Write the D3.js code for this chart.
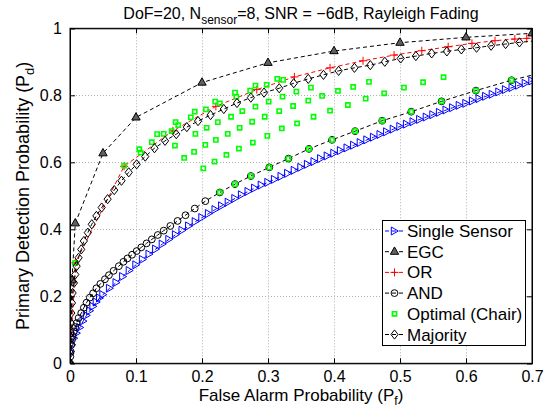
<!DOCTYPE html>
<html lang="en">
<head>
<meta charset="UTF-8">
<title>ROC curves</title>
<script src="https://d3js.org/d3.v7.min.js"></script>
<style>
  body { margin: 0; background: #fff; }
  svg text { font-family: "Liberation Sans", Arial, Helvetica, sans-serif; fill: #000; }
</style>
</head>
<body>
<script>
// ---- data ----
var pfSingle = [0, 0.001, 0.003, 0.006, 0.01, 0.015, 0.02, 0.025, 0.03, 0.035, 0.04, 0.045, 0.05,
  0.06, 0.07, 0.08, 0.09, 0.10, 0.11, 0.12, 0.13, 0.14, 0.15, 0.16, 0.17, 0.18, 0.19, 0.20,
  0.21, 0.22, 0.23, 0.24, 0.25, 0.26, 0.27, 0.28, 0.29, 0.30, 0.31, 0.32, 0.33, 0.34, 0.35,
  0.36, 0.37, 0.38, 0.39, 0.40, 0.41, 0.42, 0.43, 0.44, 0.45, 0.46, 0.47, 0.48, 0.49, 0.50,
  0.51, 0.52, 0.53, 0.54, 0.55, 0.56, 0.57, 0.58, 0.59, 0.60, 0.61, 0.62, 0.63, 0.64, 0.65,
  0.66, 0.67, 0.68, 0.69, 0.70];
var pdSingle = [0, 0.035, 0.055, 0.075, 0.09, 0.107, 0.126, 0.143, 0.157, 0.17, 0.183, 0.195, 0.205,
  0.224, 0.241, 0.259, 0.277, 0.294, 0.31, 0.326, 0.341, 0.356, 0.37, 0.384, 0.397, 0.41, 0.423, 0.435,
  0.447, 0.459, 0.47, 0.481, 0.492, 0.503, 0.513, 0.523, 0.532, 0.54, 0.549, 0.558, 0.567, 0.576, 0.585,
  0.594, 0.602, 0.611, 0.619, 0.627, 0.635, 0.643, 0.651, 0.659, 0.667, 0.675, 0.683, 0.691, 0.699, 0.707,
  0.714, 0.721, 0.728, 0.735, 0.742, 0.749, 0.756, 0.763, 0.77, 0.776, 0.783, 0.79, 0.797, 0.803, 0.81,
  0.817, 0.823, 0.83, 0.836, 0.843];

var pfEgc = [0, 0.003, 0.008, 0.05, 0.1, 0.2, 0.3, 0.4, 0.5, 0.6, 0.7];
var pdEgc = [0, 0.248, 0.418, 0.627, 0.734, 0.838, 0.897, 0.932, 0.957, 0.973, 0.985];

var pfOr = [0, 0.008, 0.082, 0.156, 0.221, 0.283, 0.34, 0.394, 0.444, 0.491, 0.533, 0.573, 0.609, 0.644, 0.674, 0.692, 0.715];
var pdOr = [0, 0.30, 0.588, 0.694, 0.767, 0.817, 0.855, 0.882, 0.903, 0.92, 0.933, 0.945, 0.955, 0.963, 0.968, 0.97, 0.974];

var pfAnd = [0, 0.0005, 0.001, 0.002, 0.003, 0.004, 0.006, 0.008, 0.010, 0.013, 0.017, 0.021, 0.025,
  0.030, 0.035, 0.040, 0.046, 0.053, 0.059, 0.066, 0.074, 0.081, 0.087, 0.094, 0.101, 0.108, 0.116,
  0.124, 0.133, 0.142, 0.152, 0.163, 0.175, 0.189, 0.205, 0.227, 0.25, 0.274, 0.302, 0.331, 0.362,
  0.397, 0.432, 0.473, 0.517, 0.563, 0.615, 0.669, 0.726];
var pdAnd = [0, 0.02, 0.035, 0.055, 0.07, 0.082, 0.095, 0.108, 0.12, 0.135, 0.15, 0.166, 0.181,
  0.196, 0.209, 0.224, 0.237, 0.251, 0.263, 0.276, 0.29, 0.303, 0.313, 0.324, 0.335, 0.346, 0.358,
  0.37, 0.383, 0.396, 0.41, 0.425, 0.442, 0.462, 0.484, 0.51, 0.535, 0.559, 0.585, 0.611, 0.64,
  0.667, 0.693, 0.724, 0.751, 0.782, 0.814, 0.845, 0.873];

var pfOpt = [0.008, 0.082, 0.105, 0.107, 0.124, 0.132, 0.142, 0.154, 0.16, 0.164, 0.159, 0.173,
  0.183, 0.189, 0.19, 0.188, 0.202, 0.206, 0.207, 0.205, 0.219, 0.22, 0.227, 0.224, 0.221, 0.237,
  0.239, 0.244, 0.25, 0.252, 0.261, 0.257, 0.256, 0.277, 0.276, 0.281, 0.273, 0.281, 0.298, 0.295,
  0.299, 0.301, 0.314, 0.323, 0.317, 0.321, 0.322, 0.343, 0.338, 0.344, 0.365, 0.361, 0.369, 0.382,
  0.394, 0.406, 0.421, 0.429, 0.453, 0.448, 0.476, 0.506, 0.535, 0.566,
  0.227, 0.25, 0.274, 0.302, 0.331, 0.362, 0.397, 0.432, 0.473, 0.517, 0.563, 0.615, 0.669];
var pdOpt = [0.30, 0.59, 0.639, 0.629, 0.66, 0.684, 0.685, 0.693, 0.72, 0.711, 0.65, 0.613,
  0.734, 0.751, 0.685, 0.631, 0.582, 0.758, 0.703, 0.652, 0.602, 0.781, 0.776, 0.72, 0.667, 0.622,
  0.685, 0.736, 0.808, 0.796, 0.753, 0.703, 0.641, 0.659, 0.721, 0.766, 0.814, 0.829, 0.831, 0.736,
  0.679, 0.781, 0.849, 0.846, 0.753, 0.701, 0.796, 0.811, 0.768, 0.716, 0.823, 0.784, 0.736, 0.798,
  0.754, 0.813, 0.771, 0.825, 0.84, 0.79, 0.806, 0.823, 0.839, 0.854,
  0.51, 0.535, 0.559, 0.585, 0.611, 0.64, 0.667, 0.693, 0.724, 0.751, 0.782, 0.814, 0.845];

var pfMaj = [0, 0.0003, 0.0006, 0.001, 0.0015, 0.002, 0.003, 0.004, 0.006, 0.008, 0.010, 0.013, 0.017,
  0.021, 0.027, 0.033, 0.040, 0.048, 0.057, 0.067, 0.078, 0.089, 0.101, 0.114, 0.128, 0.144, 0.161,
  0.177, 0.194, 0.213, 0.233, 0.253, 0.274, 0.294, 0.317, 0.339, 0.361, 0.384, 0.407, 0.431, 0.455,
  0.477, 0.501, 0.524, 0.548, 0.571, 0.593, 0.616, 0.638, 0.66, 0.681, 0.702];
var pdMaj = [0, 0.03, 0.06, 0.09, 0.12, 0.15, 0.18, 0.21, 0.24, 0.265, 0.29, 0.315, 0.34,
  0.365, 0.39, 0.415, 0.44, 0.465, 0.49, 0.517, 0.545, 0.57, 0.594, 0.617, 0.642, 0.664, 0.684,
  0.705, 0.723, 0.741, 0.759, 0.777, 0.793, 0.808, 0.821, 0.836, 0.849, 0.861, 0.873, 0.882, 0.89,
  0.9, 0.91, 0.917, 0.925, 0.931, 0.937, 0.942, 0.948, 0.953, 0.958, 0.962];

var xTicks = [0, 0.1, 0.2, 0.3, 0.4, 0.5, 0.6, 0.7];
var yTicks = [0, 0.2, 0.4, 0.6, 0.8, 1];
var legendNames = ["Single Sensor", "EGC", "OR", "AND", "Optimal (Chair)", "Majority"];

// ---- layout ----
var w = 553, h = 410;
var pl = 70, pr = 532, pt = 28.3, pb = 363.3;

var svg = d3.select("body").append("svg")
  .attr("width", w).attr("height", h);

var xScale = d3.scaleLinear().domain([0, 0.7]).range([pl, pr]);
var yScale = d3.scaleLinear().domain([0, 1]).range([pb, pt]);

svg.append("defs").append("clipPath").attr("id", "plotclip")
  .append("rect").attr("x", pl).attr("y", pt).attr("width", pr - pl).attr("height", pb - pt);

// grid (dotted)
var grid = svg.append("g").attr("stroke", "#b0b0b0").attr("stroke-width", 1).attr("stroke-dasharray", "1,2");
grid.selectAll(".gx").data(xTicks.slice(1, -1)).enter().append("line")
  .attr("x1", function (d) { return Math.round(xScale(d)) + 0.5; })
  .attr("x2", function (d) { return Math.round(xScale(d)) + 0.5; })
  .attr("y1", pt).attr("y2", pb);
grid.selectAll(".gy").data(yTicks.slice(1, -1)).enter().append("line")
  .attr("y1", function (d) { return Math.round(yScale(d)) + 0.5; })
  .attr("y2", function (d) { return Math.round(yScale(d)) + 0.5; })
  .attr("x1", pl).attr("x2", pr);

// marker shapes
var shapes = {
  triRight: "M-3.2,-4L3.8,0L-3.2,4Z",
  triUp: "M0,-4.8L4.2,2.6L-4.2,2.6Z",
  plus: "M-4,0H4M0,-4V4",
  circle: "M3.4,0A3.4,3.4 0 1,1 -3.4,0A3.4,3.4 0 1,1 3.4,0Z",
  square: "M-2.1,-2.1H2.1V2.1H-2.1Z",
  diamond: "M0,-4.6L3.6,0L0,4.6L-3.6,0Z"
};

function zip(xs, ys) {
  return xs.map(function (x, i) { return [x, ys[i]]; });
}

var series = [
  { name: legendNames[0], pts: zip(pfSingle, pdSingle), color: "#0000ff", shape: "triRight", fill: "none", line: true },
  { name: legendNames[1], pts: zip(pfEgc, pdEgc), color: "#000", shape: "triUp", fill: "#606060", line: true },
  { name: legendNames[2], pts: zip(pfOr, pdOr), color: "#ff0000", shape: "plus", fill: "none", line: true },
  { name: legendNames[3], pts: zip(pfAnd, pdAnd), color: "#000", shape: "circle", fill: "none", line: true },
  { name: legendNames[4], pts: zip(pfOpt, pdOpt), color: "#00ff00", shape: "square", fill: "none", line: false, sw: 1.6 },
  { name: legendNames[5], pts: zip(pfMaj, pdMaj), color: "#000", shape: "diamond", fill: "none", line: true }
];

var lineGen = d3.line()
  .x(function (d) { return xScale(d[0]); })
  .y(function (d) { return yScale(d[1]); });

var plot = svg.append("g").attr("clip-path", "url(#plotclip)");

series.forEach(function (s) {
  if (s.line) {
    plot.append("path")
      .attr("d", lineGen(s.pts))
      .attr("fill", "none")
      .attr("stroke", s.color)
      .attr("stroke-width", 1)
      .attr("stroke-dasharray", "4,3");
  }
  plot.append("g").selectAll("path")
    .data(s.pts.filter(function (d) { return d[0] <= 0.7; }))
    .enter().append("path")
    .attr("transform", function (d) { return "translate(" + xScale(d[0]) + "," + yScale(d[1]) + ")"; })
    .attr("d", shapes[s.shape])
    .attr("fill", s.fill)
    .attr("stroke", s.color)
    .attr("stroke-width", s.sw || 1);
});

// axes box and ticks (MATLAB style: ticks inside, on all sides)
var xAxis = d3.axisBottom(xScale).tickValues(xTicks).tickSize(-5).tickPadding(7).tickFormat(d3.format("~g"));
var yAxis = d3.axisLeft(yScale).tickValues(yTicks).tickSize(-5).tickPadding(8).tickFormat(d3.format("~g"));

var gx = svg.append("g").attr("transform", "translate(0," + pb + ")").call(xAxis);
var gy = svg.append("g").attr("transform", "translate(" + pl + ",0)").call(yAxis);
svg.append("g").attr("transform", "translate(0," + pt + ")")
  .call(d3.axisTop(xScale).tickValues(xTicks).tickSize(-5).tickFormat(""));
svg.append("g").attr("transform", "translate(" + pr + ",0)")
  .call(d3.axisRight(yScale).tickValues(yTicks).tickSize(-5).tickFormat(""));

svg.selectAll(".domain").attr("stroke", "#000");
svg.selectAll(".tick line").attr("stroke", "#000");
svg.selectAll(".tick text").attr("font-size", "16px").attr("fill", "#000")
  .attr("font-family", "'Liberation Sans', Arial, sans-serif");

svg.append("rect").attr("x", pl).attr("y", pt).attr("width", pr - pl).attr("height", pb - pt)
  .attr("fill", "none").attr("stroke", "#000").attr("stroke-width", 1);

// title
var title = svg.append("text").attr("x", (pl + pr) / 2).attr("y", 19)
  .attr("text-anchor", "middle").attr("font-size", "16px");
title.append("tspan").text("DoF=20, N");
title.append("tspan").attr("dy", 5).attr("font-size", "12px").text("sensor");
title.append("tspan").attr("dy", -5).text("=8, SNR = \u22126dB, Rayleigh Fading");

// x label
var xl = svg.append("text").attr("x", (pl + pr) / 2).attr("y", 401)
  .attr("text-anchor", "middle").attr("font-size", "17px");
xl.append("tspan").text("False Alarm Probability (P");
xl.append("tspan").attr("dy", 4).attr("font-size", "12px").text("f");
xl.append("tspan").attr("dy", -4).text(")");

// y label
var yl = svg.append("text")
  .attr("transform", "translate(29," + ((pt + pb) / 2) + ") rotate(-90)")
  .attr("text-anchor", "middle").attr("font-size", "18px");
yl.append("tspan").text("Primary Detection Probability (P");
yl.append("tspan").attr("dy", 5).attr("font-size", "13px").text("d");
yl.append("tspan").attr("dy", -5).text(")");

// legend
var lg = svg.append("g");
lg.append("rect").attr("x", 382.5).attr("y", 220.5).attr("width", 143).attr("height", 125)
  .attr("fill", "#fff").attr("stroke", "#000").attr("stroke-width", 1);
var rows = lg.selectAll(".row").data(series).enter().append("g")
  .attr("transform", function (d, i) { return "translate(0," + (231 + i * 20.7) + ")"; });
rows.filter(function (d) { return d.line; }).append("line")
  .attr("x1", 385).attr("x2", 404).attr("y1", 0).attr("y2", 0)
  .attr("stroke", function (d) { return d.color; })
  .attr("stroke-dasharray", "4,3");
rows.append("path")
  .attr("transform", "translate(394.5,0)")
  .attr("d", function (d) { return shapes[d.shape]; })
  .attr("fill", function (d) { return d.fill; })
  .attr("stroke", function (d) { return d.color; })
  .attr("stroke-width", function (d) { return d.sw || 1; });
rows.append("text").attr("x", 407).attr("y", 6).attr("font-size", "17px")
  .text(function (d) { return d.name; });
</script>
</body>
</html>
